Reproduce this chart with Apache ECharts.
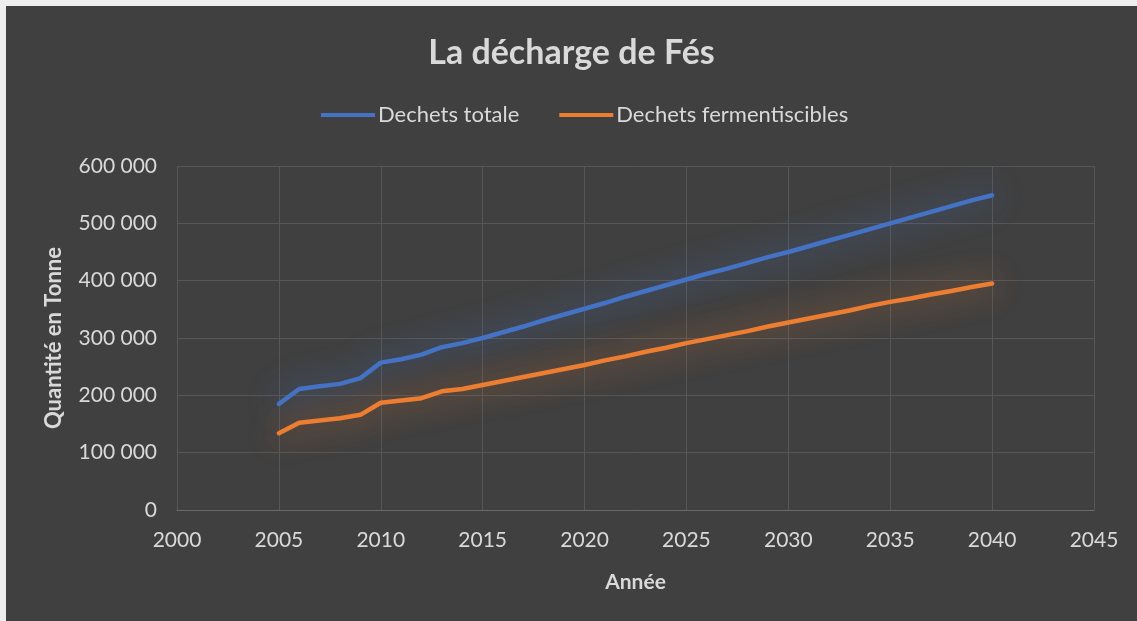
<!DOCTYPE html>
<html>
<head>
<meta charset="utf-8">
<title>La décharge de Fés</title>
<script src="https://cdn.jsdelivr.net/npm/echarts@6/dist/echarts.min.js"></script>
<style>
    html, body { margin: 0; padding: 0; background: #eeeeee; }
    #chart { position: absolute; left: 6px; top: 6px; width: 1131px; height: 615px; background: #404040; }
</style>
</head>
<body>
<div id="chart"></div>
<script>
// années 2005 - 2040
var years = [2005, 2006, 2007, 2008, 2009, 2010, 2011, 2012, 2013, 2014, 2015,
    2016, 2017, 2018, 2019, 2020, 2021, 2022, 2023, 2024, 2025,
    2026, 2027, 2028, 2029, 2030, 2031, 2032, 2033, 2034, 2035,
    2036, 2037, 2038, 2039, 2040];

var dechetsTotale = [185000, 211000, 216000, 220000, 230000, 257000, 263000, 271000, 284000, 291000, 300000,
    310000, 320000, 331000, 341000, 351000, 361000, 372000, 382000, 392000, 402000,
    412000, 421000, 431000, 441000, 450000, 460000, 470000, 480000, 490000, 500000,
    510000, 520000, 530000, 540000, 549000];

var dechetsFermentiscibles = [134000, 152000, 156000, 160000, 166000, 187000, 191000, 195000, 207000, 211000, 218000,
    225000, 232000, 239000, 246000, 253000, 261000, 268000, 276000, 283000, 291000,
    298000, 305000, 312000, 320000, 327000, 334000, 341000, 348000, 356000, 363000,
    369000, 376000, 382000, 389000, 395000];

var xTicks = {min: 2000, max: 2045, interval: 5};
var yTicks = {min: 0, max: 600000, interval: 100000};

function pairs(xs, ys) {
    return xs.map(function (x, i) { return [x, ys[i]]; });
}

var chart = echarts.init(document.getElementById('chart'));
var txt = '#d9d9d9';
var font = 'Lato, "Noto Sans", sans-serif';

chart.setOption({
    backgroundColor: '#404040',
    animation: false,
    title: {
        text: 'La décharge de Fés',
        left: 'center',
        top: 25,
        textStyle: { color: txt, fontSize: 34, fontWeight: 'bold', fontFamily: font }
    },
    legend: {
        top: 93,
        left: 310,
        itemWidth: 54,
        itemHeight: 14,
        itemGap: 40,
        textStyle: { color: txt, fontSize: 22, fontFamily: font, padding: [0, 0, 0, -2] },
        data: [
            { name: 'Dechets totale', icon: 'path://M0,6 L54,6 L54,10 L0,10 Z' },
            { name: 'Dechets fermentiscibles', icon: 'path://M0,6 L54,6 L54,10 L0,10 Z' }
        ]
    },
    grid: { left: 171, right: 43, top: 160, bottom: 111 },
    xAxis: {
        type: 'value',
        min: xTicks.min,
        max: xTicks.max,
        interval: xTicks.interval,
        name: 'Année',
        nameLocation: 'middle',
        nameGap: 62,
        nameTextStyle: { color: txt, fontSize: 21, fontWeight: 'bold', fontFamily: font },
        axisLine: { show: true, lineStyle: { color: '#6a6a6a', width: 1 } },
        axisTick: { show: false },
        axisLabel: {
            color: txt, fontSize: 21, fontFamily: font, margin: 20,
            formatter: function (v) { return String(v); }
        },
        splitLine: { show: true, lineStyle: { color: '#575757', width: 1 } }
    },
    yAxis: {
        type: 'value',
        min: yTicks.min,
        max: yTicks.max,
        interval: yTicks.interval,
        name: 'Quantité en Tonne',
        nameLocation: 'middle',
        nameGap: 112,
        nameTextStyle: { color: txt, fontSize: 22, fontWeight: 'bold', fontFamily: font },
        axisLine: { show: false },
        axisTick: { show: false },
        axisLabel: {
            color: txt, fontSize: 21, fontFamily: font, margin: 20,
            formatter: function (v) { return String(v).replace(/\B(?=(\d{3})+(?!\d))/g, ' '); }
        },
        splitLine: { show: true, lineStyle: { color: '#575757', width: 1 } }
    },
    series: [
        {
            name: 'Dechets totale',
            type: 'line',
            showSymbol: false,
            color: '#4472c4',
            lineStyle: { width: 4.5, color: '#4472c4', shadowColor: 'rgba(68,114,196,0.95)', shadowBlur: 30, cap: 'round', join: 'round' },
            data: pairs(years, dechetsTotale)
        },
        {
            name: 'Dechets fermentiscibles',
            type: 'line',
            showSymbol: false,
            color: '#ed7d31',
            lineStyle: { width: 4.5, color: '#ed7d31', shadowColor: 'rgba(237,125,49,0.85)', shadowBlur: 30, cap: 'round', join: 'round' },
            data: pairs(years, dechetsFermentiscibles)
        }
    ]
});
</script>
</body>
</html>
